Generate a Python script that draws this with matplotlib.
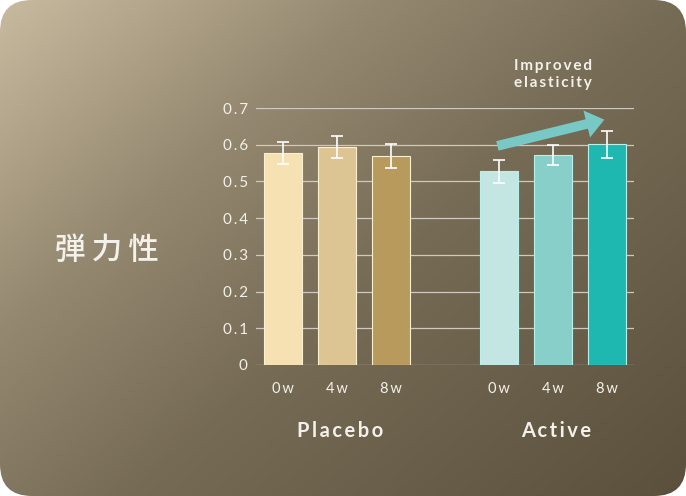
import numpy as np
import matplotlib.pyplot as plt
from matplotlib.colors import LinearSegmentedColormap
from matplotlib.patches import FancyBboxPatch

# data
weeks = ["0w", "4w", "8w"]
groups = ["Placebo", "Active"]
placebo_vals = [0.578, 0.594, 0.569]
placebo_err = [0.030, 0.030, 0.033]
active_vals = [0.528, 0.571, 0.601]
active_err = [0.031, 0.027, 0.036]
yticks = [0, 0.1, 0.2, 0.3, 0.4, 0.5, 0.6, 0.7]

placebo_colors = ["#f5e1b1", "#dcc593", "#b89a5d"]
active_colors = ["#c3e6e2", "#88cfca", "#1fb8b0"]
edge_p = "#fbf0d2"
edge_a = "#b8f0ec"

LATIN = ["Lato", "DejaVu Sans"]
CJK = ["Noto Sans CJK JP", "DejaVu Sans"]
TXT = "#f4f1ea"


def spaced(s):
    return "\u2009".join(s)


W, H = 686, 496
fig = plt.figure(figsize=(W / 100, H / 100), dpi=100)
fig.patch.set_facecolor("white")

# background: rounded panel with diagonal gradient
bg = fig.add_axes([0, 0, 1, 1])
bg.set_xlim(0, W)
bg.set_ylim(H, 0)
bg.axis("off")
cmap = LinearSegmentedColormap.from_list(
    "bg", [(0, "#c8ba9f"), (0.3, "#948870"), (0.55, "#766b55"), (1, "#5b503c")])
xx, yy = np.meshgrid(np.linspace(0, 1, 300), np.linspace(0, 1, 220))
grad = (xx * 0.55 + yy * 0.45)
im = bg.imshow(grad, cmap=cmap, extent=[0, W, H, 0], aspect="auto", vmin=0, vmax=1)
panel = FancyBboxPatch((32, 32), W - 64, H - 64,
                       boxstyle="round,pad=32,rounding_size=32",
                       transform=bg.transData, facecolor="none", edgecolor="none")
bg.add_patch(panel)
im.set_clip_path(panel)

# main chart
ax = fig.add_axes([256 / W, 1 - 365 / H, (634 - 256) / W, (365 - 108) / H])
ax.patch.set_alpha(0)
x_p = np.arange(3)
x_a = np.arange(3) + 4

for yv in yticks:
    ax.axhline(yv, color="#cfc9bf", lw=0.9, zorder=1)

ax.bar(x_p, placebo_vals, width=0.7, color=placebo_colors, edgecolor=edge_p,
       linewidth=0.8, zorder=2)
ax.bar(x_a, active_vals, width=0.7, color=active_colors, edgecolor=edge_a,
       linewidth=0.8, zorder=2)
ax.errorbar(x_p, placebo_vals, yerr=placebo_err, fmt="none", ecolor="white",
            elinewidth=1.2, capsize=4, capthick=1.2, zorder=3)
ax.errorbar(x_a, active_vals, yerr=active_err, fmt="none", ecolor="white",
            elinewidth=1.2, capsize=4, capthick=1.2, zorder=3)

ax.set_xlim(-0.5, 6.5)
ax.set_ylim(0, 0.7)
for s in ax.spines.values():
    s.set_visible(False)
ax.tick_params(length=0)
ax.set_yticks(yticks)
ax.set_yticklabels([spaced("0" if v == 0 else f"{v:.1f}") for v in yticks],
                   family=LATIN, fontsize=11, color=TXT)
ax.tick_params(axis="y", pad=6)
ax.set_xticks(list(x_p) + list(x_a))
ax.set_xticklabels([spaced(w) for w in weeks * 2], family=LATIN, fontsize=10.5,
                   color=TXT)
ax.tick_params(axis="x", pad=12)

# group labels
for xs, g in zip([x_p, x_a], groups):
    ax.text(np.mean(xs) + 0.06, -0.256, spaced(g), ha="center", va="center",
            family=LATIN, fontsize=14.5, fontweight="bold", color=TXT,
            transform=ax.get_xaxis_transform())

# trend arrow
ax.annotate("", xy=(x_a[-1], 0.670), xytext=(x_a[0] - 0.08, 0.595),
            arrowprops=dict(arrowstyle="simple,head_length=1.3,head_width=2.0,tail_width=0.7",
                            color="#78c9c6", lw=0), annotation_clip=False, zorder=4)
ax.text(x_a[1], 1.13, spaced("Improved") + "\n" + spaced("elasticity"),
        ha="center", va="center", family=LATIN, fontsize=11, fontweight="bold",
        color=TXT, linespacing=1.3, transform=ax.get_xaxis_transform())

fig.text(107 / W, 1 - 250 / H, spaced("弾力性"), ha="center", va="center",
         family=CJK, fontsize=22, fontweight="medium", color=TXT)

fig.savefig("out.png", dpi=100)
